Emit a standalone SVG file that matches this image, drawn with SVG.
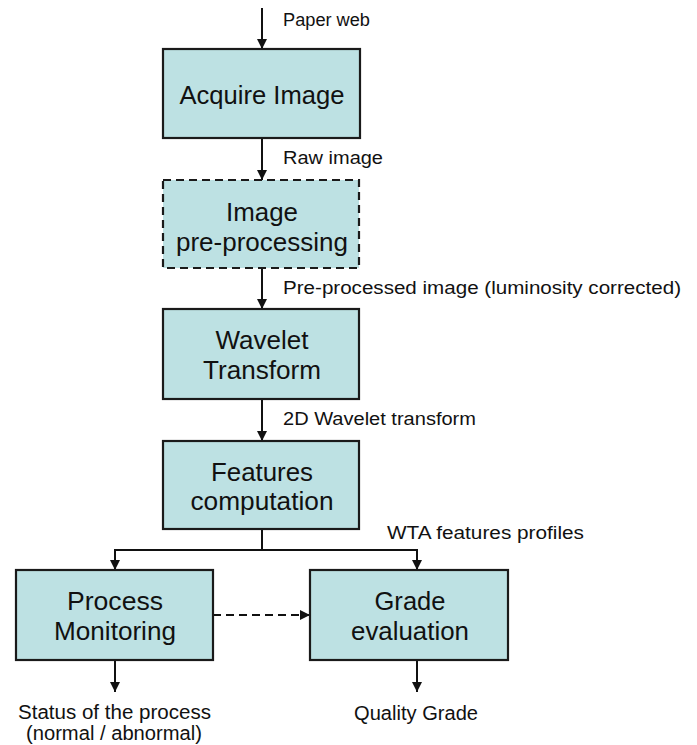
<svg xmlns="http://www.w3.org/2000/svg" width="697" height="745" viewBox="0 0 697 745">
<defs>
<style>
.box{fill:#bde1e3;stroke:#1a1a1a;stroke-width:2.2}
.dash{stroke-dasharray:8 5}
.bt{font-family:"Liberation Sans",Arial,sans-serif;font-size:26px;fill:#111;text-anchor:middle}
.lt{font-family:"Liberation Sans",Arial,sans-serif;font-size:17.5px;fill:#111}
.ot{font-family:"Liberation Sans",Arial,sans-serif;font-size:20px;fill:#111}
.ln{fill:none;stroke:#111;stroke-width:2}
</style>
<marker id="ah" viewBox="0 0 10 10" refX="10" refY="5" markerWidth="5" markerHeight="5" orient="auto" markerUnits="strokeWidth">
<path d="M0,0 L10,5 L0,10 z" fill="#111"/>
</marker>
</defs>
<rect width="697" height="745" fill="#fff"/>
<g id="connectors">
<line class="ln" x1="262" y1="8" x2="262" y2="49" marker-end="url(#ah)"/>
<line class="ln" x1="262" y1="138" x2="262" y2="180" marker-end="url(#ah)"/>
<line class="ln" x1="262" y1="268" x2="262" y2="309" marker-end="url(#ah)"/>
<line class="ln" x1="262" y1="399" x2="262" y2="441" marker-end="url(#ah)"/>
<path class="ln" d="M262,529 V550 M115,550 H417"/>
<line class="ln" x1="115" y1="549" x2="115" y2="570" marker-end="url(#ah)"/>
<line class="ln" x1="417" y1="549" x2="417" y2="570" marker-end="url(#ah)"/>
<line class="ln dash" x1="213" y1="615" x2="310" y2="615" marker-end="url(#ah)"/>
<line class="ln" x1="115" y1="660" x2="115" y2="692" marker-end="url(#ah)"/>
<line class="ln" x1="417" y1="660" x2="417" y2="692" marker-end="url(#ah)"/>
<text class="lt" x="283" y="26" textLength="87" lengthAdjust="spacingAndGlyphs">Paper web</text>
<text class="lt" x="283" y="164" textLength="100" lengthAdjust="spacingAndGlyphs">Raw image</text>
<text class="lt" x="283" y="294" textLength="398" lengthAdjust="spacingAndGlyphs">Pre-processed image (luminosity corrected)</text>
<text class="lt" x="283" y="425" textLength="193" lengthAdjust="spacingAndGlyphs">2D Wavelet transform</text>
<text class="lt" x="387" y="539" textLength="197" lengthAdjust="spacingAndGlyphs">WTA features profiles</text>
<text class="ot" x="18" y="719" textLength="193" lengthAdjust="spacingAndGlyphs">Status of the process</text>
<text class="ot" x="26" y="740" textLength="176" lengthAdjust="spacingAndGlyphs">(normal / abnormal)</text>
<text class="ot" x="354" y="720" textLength="124" lengthAdjust="spacingAndGlyphs">Quality Grade</text>
</g>
<g id="acquire">
<rect class="box" x="163" y="49" width="197" height="89"/>
<text class="bt" x="262" y="104" textLength="165" lengthAdjust="spacingAndGlyphs">Acquire Image</text>
</g>
<g id="preprocessing">
<rect class="box dash" x="163" y="180" width="196" height="88"/>
<text class="bt" x="262" y="221" textLength="72" lengthAdjust="spacingAndGlyphs">Image</text>
<text class="bt" x="262" y="251" textLength="172" lengthAdjust="spacingAndGlyphs">pre-processing</text>
</g>
<g id="wavelet">
<rect class="box" x="163" y="309" width="196" height="90"/>
<text class="bt" x="262" y="349" textLength="93" lengthAdjust="spacingAndGlyphs">Wavelet</text>
<text class="bt" x="262" y="379" textLength="118" lengthAdjust="spacingAndGlyphs">Transform</text>
</g>
<g id="features">
<rect class="box" x="163" y="441" width="196" height="88"/>
<text class="bt" x="262" y="481" textLength="102" lengthAdjust="spacingAndGlyphs">Features</text>
<text class="bt" x="262" y="510" textLength="143" lengthAdjust="spacingAndGlyphs">computation</text>
</g>
<g id="monitoring">
<rect class="box" x="16" y="570" width="197" height="90"/>
<text class="bt" x="115" y="610" textLength="96" lengthAdjust="spacingAndGlyphs">Process</text>
<text class="bt" x="115" y="640" textLength="122" lengthAdjust="spacingAndGlyphs">Monitoring</text>
</g>
<g id="grade">
<rect class="box" x="310" y="570" width="198" height="90"/>
<text class="bt" x="410" y="610" textLength="71" lengthAdjust="spacingAndGlyphs">Grade</text>
<text class="bt" x="410" y="640" textLength="118" lengthAdjust="spacingAndGlyphs">evaluation</text>
</g>
</svg>
